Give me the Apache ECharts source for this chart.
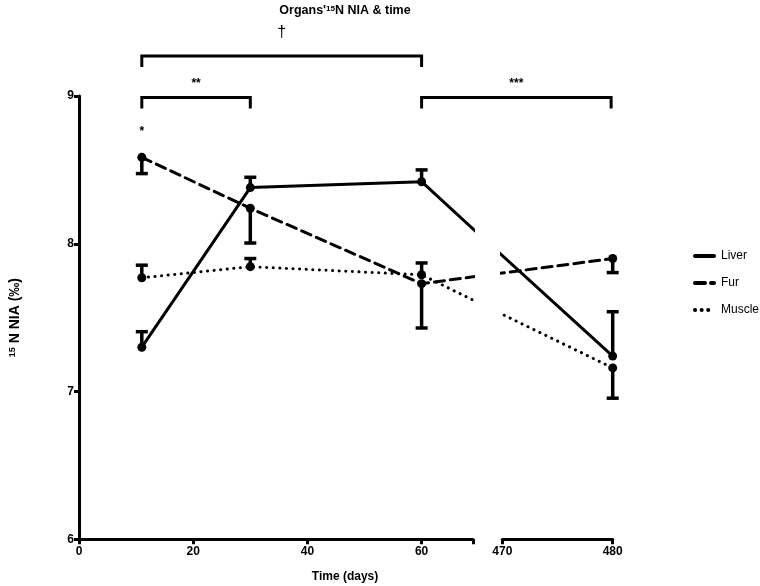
<!DOCTYPE html>
<html>
<head>
<meta charset="utf-8">
<script src="https://cdn.jsdelivr.net/npm/echarts@6/dist/echarts.min.js"></script>
<style>
  html, body { margin: 0; padding: 0; background: #fff; }
  #chart { width: 760px; height: 586px; }
</style>
</head>
<body>
<div id="chart"></div>
<script>
// sampling days and means (‰), plus the end value of each one-sided error bar
const days = [11, 30, 60, 480]
const liver = [7.30, 8.38, 8.42, 7.24]
const liverBar = [7.405, 8.45, 8.50, 7.54]
const fur = [8.585, 8.24, 7.73, 7.90]
const furBar = [8.475, 8.005, 7.43, 7.805]
const muscle = [7.77, 7.845, 7.79, 7.16]
const muscleBar = [7.855, 7.90, 7.87, 6.955]

// broken x axis: 0-69 then 470-480
const xRange1 = [0, 69]
const xRange2 = [470, 480]
const xTicks1 = [0, 20, 40, 60]
const yRange = [6, 9]

// significance brackets: from day, to day, level, mark
const brackets = [[11, 60, 9.27, '†'], [11, 30, 8.99, '**'], [60, 480, 8.99, '***']]
const stars = [[11, 8.76, '*']]

const FONT = '"Liberation Sans", Arial, sans-serif'
const G1 = { left: 74.5, top: 96, width: 398.5, height: 443.3 }
const G2 = { left: 502.3, top: 96, width: 110.4, height: 443.3 }

const k1 = G1.width / (xRange1[1] - xRange1[0])
const k2 = G2.width / (xRange2[1] - xRange2[0])
// lines run straight across the break, so express a day in the other segment's units
function toSeg1(d) {
  return d <= xRange1[1] ? d : (G2.left + (d - xRange2[0]) * k2 - G1.left) / k1
}
function toSeg2(d) {
  return d >= xRange2[0] ? d : xRange2[0] + (G1.left + (d - xRange1[0]) * k1 - G2.left) / k2
}

const organs = [
  { name: 'Liver', vals: liver, bars: liverBar, type: 'solid' },
  { name: 'Fur', vals: fur, bars: furBar, type: [10, 6] },
  { name: 'Muscle', vals: muscle, bars: muscleBar, type: [0.1, 6.5] }
]

function renderBar(params, api) {
  const p = api.coord([api.value(0), api.value(1)])
  const e = api.coord([api.value(0), api.value(2)])
  const st = { stroke: '#000', lineWidth: 3.5 }
  return {
    type: 'group',
    children: [
      { type: 'line', shape: { x1: p[0], y1: p[1], x2: e[0], y2: e[1] }, style: st },
      { type: 'line', shape: { x1: e[0] - 6, y1: e[1], x2: e[0] + 6, y2: e[1] }, style: st },
      { type: 'circle', shape: { cx: p[0], cy: p[1], r: 4.5 }, style: { fill: '#000' } }
    ]
  }
}

function renderBracket(params, api) {
  const a = api.coord([api.value(0), api.value(2)])
  const b = api.coord([api.value(1), api.value(2)])
  const big = api.value(3) === '†'
  return {
    type: 'group',
    children: [
      {
        type: 'polyline',
        shape: { points: [[a[0], a[1] + 11], [a[0], a[1]], [b[0], b[1]], [b[0], b[1] + 11]] },
        style: { stroke: '#000', lineWidth: 3, fill: null }
      },
      {
        type: 'text',
        x: (a[0] + b[0]) / 2,
        y: a[1] - (big ? 24 : 14),
        style: {
          text: api.value(3), align: 'center', verticalAlign: 'middle',
          fontSize: big ? 16 : 12, fontWeight: big ? 'normal' : 'bold', fontFamily: FONT, fill: '#000'
        }
      }
    ]
  }
}

const series = []
organs.forEach(o => {
  series.push({
    name: o.name, type: 'line', xAxisIndex: 0, yAxisIndex: 0, symbol: 'none', color: '#000',
    lineStyle: { color: '#000', width: 3, type: o.type, cap: 'round' },
    data: days.map((d, i) => [toSeg1(d), o.vals[i]]), z: 2
  })
  series.push({
    name: o.name, type: 'line', xAxisIndex: 1, yAxisIndex: 1, symbol: 'none', color: '#000',
    lineStyle: { color: '#000', width: 3, type: o.type, cap: 'round' },
    data: days.map((d, i) => [toSeg2(d), o.vals[i]]), z: 2
  })
})
organs.forEach(o => {
  series.push({
    name: o.name, type: 'custom', xAxisIndex: 0, yAxisIndex: 0, renderItem: renderBar, z: 3, color: '#000',
    data: days.map((d, i) => [d, o.vals[i], o.bars[i]]).filter(r => r[0] <= xRange1[1])
  })
  series.push({
    name: o.name, type: 'custom', xAxisIndex: 1, yAxisIndex: 1, renderItem: renderBar, z: 3, color: '#000',
    data: days.map((d, i) => [d, o.vals[i], o.bars[i]]).filter(r => r[0] >= xRange2[0])
  })
})
series.push({
  type: 'custom', xAxisIndex: 0, yAxisIndex: 0, clip: false, renderItem: renderBracket,
  data: brackets.map(b => [toSeg1(b[0]), toSeg1(b[1]), b[2], b[3]])
})
series.push({
  type: 'custom', xAxisIndex: 0, yAxisIndex: 0, clip: false,
  renderItem: (params, api) => {
    const p = api.coord([api.value(0), api.value(1)])
    return {
      type: 'text', x: p[0], y: p[1],
      style: { text: api.value(2), align: 'center', verticalAlign: 'middle', fontSize: 12, fontWeight: 'bold', fontFamily: FONT, fill: '#000' }
    }
  },
  data: stars
})

const axisCommon = {
  axisLine: { show: true, lineStyle: { color: '#000', width: 3 } },
  axisTick: { show: true, length: 5, lineStyle: { color: '#000', width: 3 } },
  axisLabel: { color: '#000', fontSize: 12, fontWeight: 'bold', fontFamily: FONT, margin: 6 },
  splitLine: { show: false }
}

const chart = echarts.init(document.getElementById('chart'))
chart.setOption({
  animation: false,
  backgroundColor: '#fff',
  grid: [G1, G2],
  xAxis: [
    Object.assign({}, axisCommon, {
      type: 'value', gridIndex: 0, min: xRange1[0], max: xRange1[1], interval: 20,
      axisLabel: Object.assign({}, axisCommon.axisLabel, {
        formatter: v => (xTicks1.includes(v) ? String(v) : '')
      })
    }),
    Object.assign({}, axisCommon, {
      type: 'value', gridIndex: 1, min: xRange2[0], max: xRange2[1], interval: 10
    })
  ],
  yAxis: [
    Object.assign({}, axisCommon, {
      type: 'value', gridIndex: 0, min: yRange[0], max: yRange[1], interval: 1,
      axisLabel: Object.assign({}, axisCommon.axisLabel, { margin: 5 }),
      name: '{sup|15} N NIA (‰)', nameLocation: 'middle', nameRotate: 90, nameGap: 56,
      nameTextStyle: {
        color: '#000', fontSize: 14, fontWeight: 'bold', fontFamily: FONT,
        rich: { sup: { fontSize: 9, fontWeight: 'bold', fontFamily: FONT, padding: [0, 0, 6, 0] } }
      }
    }),
    { type: 'value', gridIndex: 1, min: yRange[0], max: yRange[1], show: false }
  ],
  legend: {
    data: organs.map(o => o.name),
    orient: 'vertical', left: 688, top: 245, itemWidth: 19, itemHeight: 10, itemGap: 15,
    itemStyle: { opacity: 0 },
    lineStyle: { width: 4 },
    textStyle: { color: '#000', fontSize: 12, fontFamily: FONT, padding: [0, 0, 0, 2] }
  },
  graphic: [
    {
      type: 'text', x: 345, y: 11,
      style: {
        text: "{b|Organs'}{s|15}{b|N NIA & time}", align: 'center', verticalAlign: 'middle',
        rich: {
          b: { fontSize: 12.5, fontWeight: 'bold', fontFamily: FONT, fill: '#000' },
          s: { fontSize: 8, fontWeight: 'bold', fontFamily: FONT, fill: '#000', padding: [0, 0, 5, 0] }
        }
      }
    },
    {
      type: 'text', x: 345, y: 577,
      style: { text: 'Time (days)', align: 'center', verticalAlign: 'middle', fontSize: 12, fontWeight: 'bold', fontFamily: FONT, fill: '#000' }
    }
  ],
  series: series
})
</script>
</body>
</html>
